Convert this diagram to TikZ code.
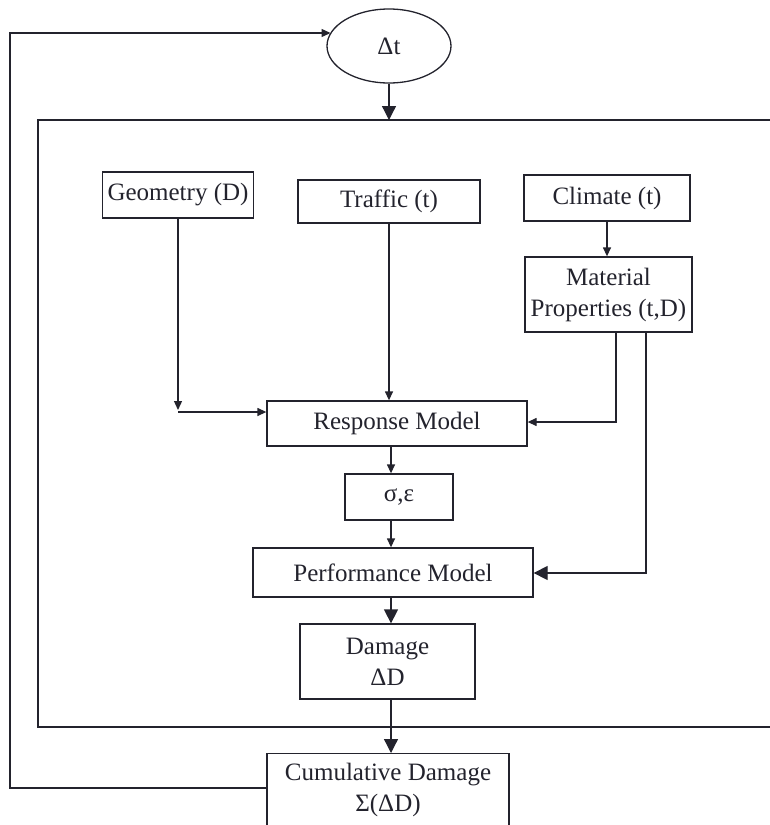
\documentclass[tikz,border=0pt]{standalone}
\usepackage{fontspec}
\setmainfont{Liberation Serif}
\usetikzlibrary{arrows.meta,shapes.geometric}
\definecolor{ink}{RGB}{35,35,45}
\begin{document}
\begin{tikzpicture}[x=1pt,y=1pt,line width=1.3pt,draw=ink,
  box/.style={draw=ink,rectangle,inner sep=0pt,align=center,text=ink,
    font=\fontsize{25}{31}\selectfont},
  sarr/.style={-{Triangle[length=9pt,width=8pt]}},
  barr/.style={-{Triangle[length=14pt,width=14pt]}}]
\useasboundingbox (0,0) rectangle (770,-825);
\clip (0,0) rectangle (770,-825);
% nodes
\node[draw=ink,ellipse,minimum width=124,minimum height=74,inner sep=0pt,text=ink,
  font=\fontsize{25}{31}\selectfont] (dt) at (389,-46) {Δt};
\node[box,minimum width=151,minimum height=46] (geo) at (178,-195) {Geometry (D)};
\node[box,minimum width=182,minimum height=43] (tra) at (389,-201.5) {Traffic (t)};
\node[box,minimum width=166,minimum height=46] (cli) at (607,-198) {Climate (t)};
\node[box,minimum width=167,minimum height=75] (mat) at (608.5,-294.5) {Material\\Properties (t,D)};
\node[box,minimum width=260,minimum height=45] (res) at (397,-423.5) {Response Model};
\node[box,minimum width=108,minimum height=46] (sig) at (399,-497) {σ,ε};
\node[box,minimum width=280,minimum height=49] (per) at (393,-572.5) {Performance Model};
\node[box,minimum width=175,minimum height=75] (dam) at (387.5,-661.5) {Damage\\ΔD};
\node[box,anchor=north,minimum width=242,inner ysep=9pt] (cum) at (388,-753)
  {Cumulative Damage\\Σ(ΔD)\rule[-15pt]{0pt}{15pt}};
% frame
\draw (780,-120) -- (38,-120) -- (38,-727) -- (780,-727);
% coordinates
\coordinate (ftop) at (0,-120);
\coordinate (cx) at (391,0);
\coordinate (gc1) at (178,-410);
\coordinate (gc2) at (178,-412);
\coordinate (m1x) at (616,-422);
\coordinate (m2x) at (646,-573);
\coordinate (lb) at (10,-788);
\coordinate (lt) at (10,-33);
% connectors
\draw[barr] (dt.south) -- (dt.south |- ftop);
\draw[sarr] (cli.south) -- (cli.south |- mat.north);
\draw[sarr] (geo.south) -- (gc1);
\draw[sarr] (gc2) -- (gc2 -| res.west);
\draw[sarr] (tra.south) -- (tra.south |- res.north);
\draw[sarr] (mat.south -| m1x) -- (m1x) -- (m1x -| res.east);
\draw[barr] (mat.south -| m2x) -- (m2x) -- (m2x -| per.east);
\draw[sarr] (cx |- res.south) -- (cx |- sig.north);
\draw[sarr] (cx |- sig.south) -- (cx |- per.north);
\draw[barr] (cx |- per.south) -- (cx |- dam.north);
\draw[barr] (cx |- dam.south) -- (cx |- cum.north);
\draw[sarr] (cum.west |- lb) -- (lb) -- (lt) -- (lt -| dt.167);
\end{tikzpicture}
\end{document}
